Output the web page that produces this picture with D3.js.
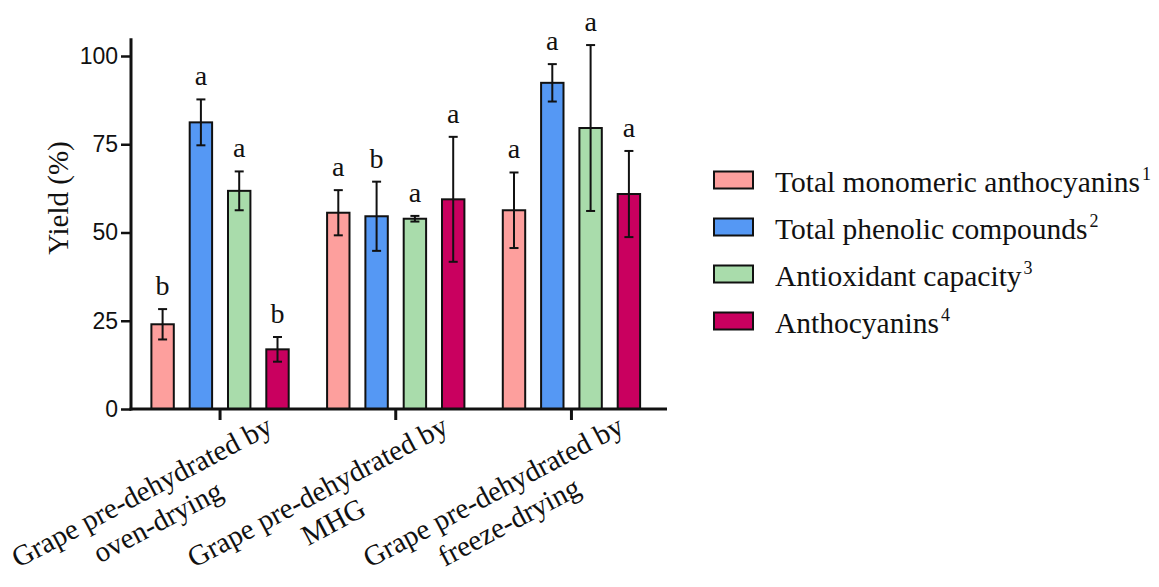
<!DOCTYPE html>
<html>
<head>
<meta charset="utf-8">
<script src="https://cdn.jsdelivr.net/npm/d3@7"></script>
<style>
  html, body { margin: 0; padding: 0; background: #fff; }
  svg { display: block; }
</style>
</head>
<body>
<svg id="chart" width="1159" height="587"></svg>
<script>
// Pre-dehydration treatments (x groups), each label split into two lines
const groups = ["oven", "mhg", "freeze"];
const groupLines = [
  ["Grape pre-dehydrated by", "oven-drying"],
  ["Grape pre-dehydrated by", "MHG"],
  ["Grape pre-dehydrated by", "freeze-drying"]
];

// Measured quantities
const series = ["tma", "tpc", "aox", "ant"];
const seriesNames = [
  "Total monomeric anthocyanins",
  "Total phenolic compounds",
  "Antioxidant capacity",
  "Anthocyanins"
];
const seriesSup = ["1", "2", "3", "4"];
const seriesColors = ["#fd9f9d", "#5598f4", "#a9dcab", "#c9005f"];

// Yield (%) per series, in group order
const tmaMean = [24.0, 55.6, 56.3];
const tmaErr  = [4.3, 6.4, 10.7];
const tpcMean = [81.2, 54.6, 92.4];
const tpcErr  = [6.5, 9.8, 5.3];
const aoxMean = [61.8, 53.9, 79.6];
const aoxErr  = [5.5, 0.8, 23.5];
const antMean = [16.9, 59.4, 60.9];
const antErr  = [3.5, 17.7, 12.2];

// Significance letters
const tmaSig = ["b", "a", "a"];
const tpcSig = ["a", "b", "a"];
const aoxSig = ["a", "a", "a"];
const antSig = ["b", "a", "a"];

const yTicks = [0, 25, 50, 75, 100];

const means = [tmaMean, tpcMean, aoxMean, antMean];
const errs = [tmaErr, tpcErr, aoxErr, antErr];
const sigs = [tmaSig, tpcSig, aoxSig, antSig];

const rows = [];
groups.forEach((g, gi) => {
  series.forEach((s, si) => {
    rows.push({ g, s, si, v: means[si][gi], e: errs[si][gi], sig: sigs[si][gi] });
  });
});

const svg = d3.select("#chart");
const serif = "'Liberation Serif', 'Times New Roman', serif";
const sans = "'Liberation Sans', Arial, sans-serif";

const axisLeftX = 131;
const axisBottomY = 409;

const y = d3.scaleLinear().domain([0, 105]).range([axisBottomY, 38.35]);

const x0 = d3.scaleBand().domain(groups).range([132.2, 659.3])
  .paddingInner(0.128).paddingOuter(0.064);
const x1 = d3.scaleBand().domain(series).range([0, x0.bandwidth()])
  .paddingInner(0.415).paddingOuter(0.2075);

const color = d3.scaleOrdinal().domain(series).range(seriesColors);

// Bars
const barG = svg.append("g");
barG.selectAll("rect").data(rows).join("rect")
  .attr("x", d => x0(d.g) + x1(d.s))
  .attr("y", d => y(d.v))
  .attr("width", x1.bandwidth())
  .attr("height", d => y(0) - y(d.v))
  .attr("fill", d => color(d.s))
  .attr("stroke", "#111")
  .attr("stroke-width", 2);

// Error bars
const capW = 9;
const errG = svg.append("g").attr("stroke", "#111").attr("stroke-width", 2).attr("fill", "none");
rows.forEach(d => {
  const cx = x0(d.g) + x1(d.s) + x1.bandwidth() / 2;
  const top = y(d.v + d.e), bot = y(d.v - d.e);
  errG.append("line").attr("x1", cx).attr("x2", cx).attr("y1", top).attr("y2", bot);
  errG.append("line").attr("x1", cx - capW / 2).attr("x2", cx + capW / 2).attr("y1", top).attr("y2", top);
  errG.append("line").attr("x1", cx - capW / 2).attr("x2", cx + capW / 2).attr("y1", bot).attr("y2", bot);
});

// Significance letters above the error bars
svg.append("g").selectAll("text").data(rows).join("text")
  .attr("x", d => x0(d.g) + x1(d.s) + x1.bandwidth() / 2)
  .attr("y", d => y(d.v + d.e) - 14)
  .attr("text-anchor", "middle")
  .attr("font-family", serif)
  .attr("font-size", 28)
  .attr("fill", "#111")
  .text(d => d.sig);

// Y axis
const yAxis = svg.append("g")
  .attr("transform", `translate(${axisLeftX},0)`)
  .call(d3.axisLeft(y).tickValues(yTicks).tickSize(10).tickPadding(3).tickSizeOuter(0));
yAxis.select(".domain").remove();
yAxis.selectAll(".tick line").attr("stroke", "#111").attr("stroke-width", 2.5);
yAxis.selectAll(".tick text").attr("font-family", sans).attr("font-size", 23).attr("fill", "#111");
svg.append("line")
  .attr("x1", axisLeftX).attr("x2", axisLeftX)
  .attr("y1", y(105)).attr("y2", axisBottomY + 1.5)
  .attr("stroke", "#111").attr("stroke-width", 3);

// X axis
const xAxis = svg.append("g")
  .attr("transform", `translate(0,${axisBottomY})`)
  .call(d3.axisBottom(x0).tickSize(11).tickSizeOuter(0).tickFormat(""));
xAxis.select(".domain").remove();
xAxis.selectAll(".tick line").attr("stroke", "#111").attr("stroke-width", 3);
svg.append("line")
  .attr("x1", axisLeftX - 1.5).attr("x2", 667)
  .attr("y1", axisBottomY).attr("y2", axisBottomY)
  .attr("stroke", "#111").attr("stroke-width", 3);

// Rotated two-line category labels
const labG = svg.append("g");
groups.forEach((g, gi) => {
  const cx = x0(g) + x0.bandwidth() / 2;
  const t = labG.append("text")
    .attr("transform", `translate(${cx},${axisBottomY}) rotate(-28)`)
    .attr("text-anchor", "middle")
    .attr("font-family", serif)
    .attr("font-size", 29)
    .attr("fill", "#111");
  groupLines[gi].forEach((line, li) => {
    t.append("tspan").attr("x", -108).attr("y", 46 + li * 34).text(line);
  });
});

// Y axis title
svg.append("text")
  .attr("transform", "translate(68,198) rotate(-90)")
  .attr("text-anchor", "middle")
  .attr("font-family", serif)
  .attr("font-size", 29)
  .attr("fill", "#111")
  .text("Yield (%)");

// Legend
const legend = svg.append("g");
series.forEach((s, i) => {
  const cy = 180 + i * 47;
  legend.append("rect")
    .attr("x", 714).attr("y", cy - 8.5)
    .attr("width", 39).attr("height", 17)
    .attr("fill", color(s)).attr("stroke", "#111").attr("stroke-width", 2);
  const t = legend.append("text")
    .attr("x", 775).attr("y", cy + 12)
    .attr("font-family", serif).attr("font-size", 29.5).attr("fill", "#111");
  t.append("tspan").text(seriesNames[i]);
  t.append("tspan").attr("font-size", 18).attr("dy", -12).attr("dx", 2).text(seriesSup[i]);
});
</script>
</body>
</html>
